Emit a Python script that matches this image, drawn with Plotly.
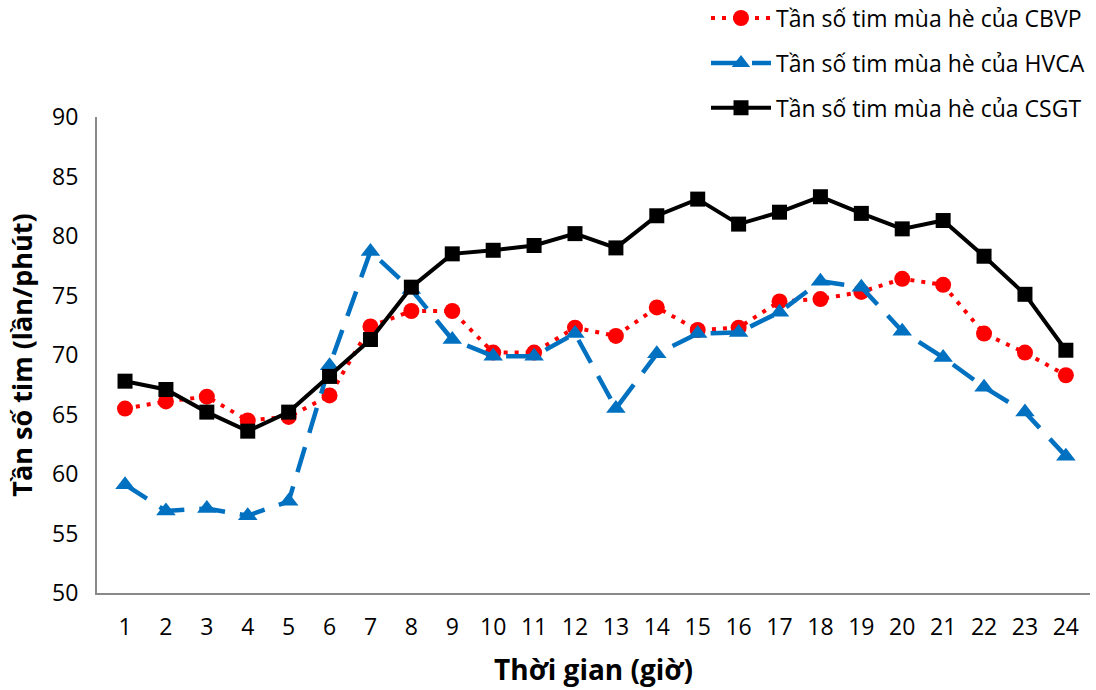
import plotly.graph_objects as go

hours = list(range(1, 25))
cbvp = [65.5, 66.1, 66.5, 64.5, 64.8, 66.6, 72.4, 73.7, 73.7, 70.2, 70.2, 72.3,
        71.6, 74.0, 72.1, 72.3, 74.5, 74.7, 75.3, 76.4, 75.9, 71.8, 70.2, 68.3]
hvca = [59.1, 56.9, 57.1, 56.5, 57.7, 69.1, 78.7, 75.5, 71.3, 69.9, 69.9, 71.8,
        65.5, 70.1, 71.8, 71.9, 73.6, 76.2, 75.7, 72.0, 69.8, 67.3, 65.2, 61.5]
csgt = [67.8, 67.1, 65.2, 63.6, 65.2, 68.2, 71.3, 75.7, 78.5, 78.8, 79.2, 80.2,
        79.0, 81.7, 83.1, 81.0, 82.0, 83.3, 81.9, 80.6, 81.3, 78.3, 75.1, 70.4]
names = ["Tần số tim mùa hè của CBVP", "Tần số tim mùa hè của HVCA", "Tần số tim mùa hè của CSGT"]
ytick = [50, 55, 60, 65, 70, 75, 80, 85, 90]

FONT = "Open Sans"

fig = go.Figure()
fig.add_trace(go.Scatter(x=hours, y=cbvp, name=names[0], mode="lines+markers", legendgroup="a",
                         line=dict(color="#FF0000", width=4, dash="4px,7px"),
                         marker=dict(symbol="circle", size=16, color="#FF0000")))
fig.add_trace(go.Scatter(x=hours, y=hvca, name=names[1], mode="lines+markers", legendgroup="b",
                         line=dict(color="#0070C0", width=4.5, dash="26px,15px"),
                         marker=dict(symbol="triangle-up", size=17, color="#0070C0")))
fig.add_trace(go.Scatter(x=hours, y=csgt, name=names[2], mode="lines+markers", legendgroup="c",
                         line=dict(color="#000000", width=4),
                         marker=dict(symbol="square", size=15, color="#000000")))

fig.update_layout(
    width=1096, height=690,
    margin=dict(l=97, r=6, t=117, b=97, autoexpand=False),
    paper_bgcolor="white", plot_bgcolor="white",
    font=dict(family=FONT, size=23, color="black"),
    showlegend=True,
    legend=dict(x=1.0, xanchor="right", y=1.253, yanchor="top",
                yref="paper", font=dict(size=23, family=FONT), tracegroupgap=12,
                itemwidth=60, bgcolor="rgba(0,0,0,0)"),
    xaxis=dict(range=[0.315, 24.59], tickmode="array", tickvals=hours,
               ticktext=[str(h) for h in hours], showgrid=False, zeroline=False,
               showline=True, linecolor="#898989", linewidth=2, ticks="",
               ticklabelstandoff=12,
               tickfont=dict(size=23, family=FONT),
               title=dict(text="<b>Thời gian (giờ)</b>", font=dict(size=28, family=FONT), standoff=20)),
    yaxis=dict(range=[50, 90], tickmode="array", tickvals=ytick,
               showgrid=False, zeroline=False, showline=True, linecolor="#898989",
               linewidth=2, ticks="", ticklabelstandoff=12,
               tickfont=dict(size=23, family=FONT),
               title=dict(text="<b>Tần số tim (lần/phút)</b>", font=dict(size=27, family=FONT), standoff=12)),
)

fig.write_html("out.html")
